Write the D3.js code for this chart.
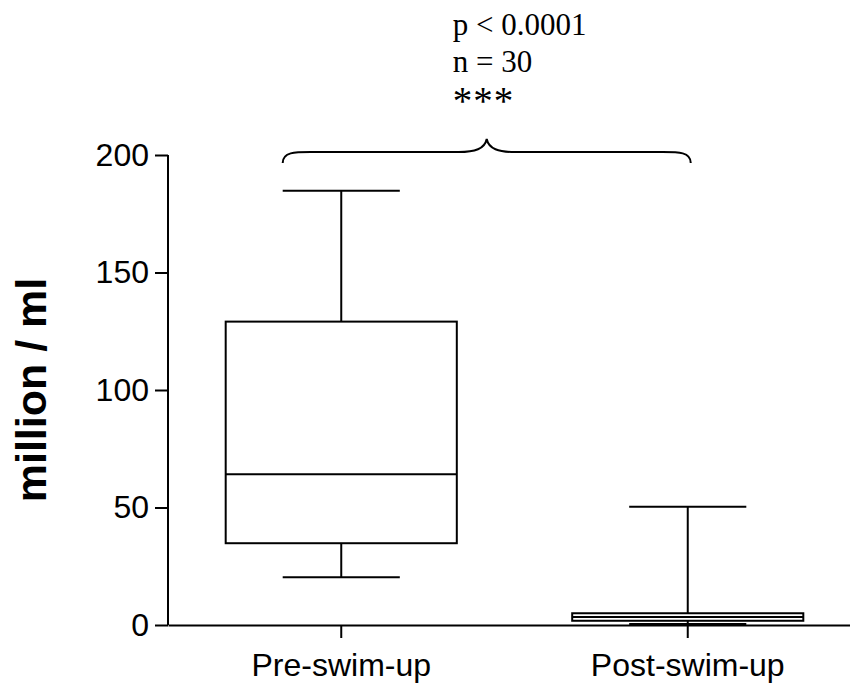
<!DOCTYPE html>
<html>
<head>
  <meta charset="utf-8">
  <title>Sperm concentration before and after swim-up</title>
  <style>
    body { margin: 0; background: #fff; }
    svg { display: block; }
    .tick text { font-family: "Liberation Sans", Arial, sans-serif; }
  </style>
</head>
<body>
  <script src="https://cdn.jsdelivr.net/npm/d3@7"></script>
  <script>
    // box plot summaries (million / ml)
    var groups = ["Pre-swim-up", "Post-swim-up"];
    var whiskerLow = [20.3, 0.4];
    var quartile1 = [34.8, 1.8];
    var medians = [64.1, 3.4];
    var quartile3 = [129.1, 5.0];
    var whiskerHigh = [184.8, 50.3];
    var yTicks = [0, 50, 100, 150, 200];
    var statLines = ["p < 0.0001", "n = 30", "***"];

    var width = 850;
    var height = 684;

    var svg = d3.select("body").append("svg")
      .attr("width", width)
      .attr("height", height);

    var x = d3.scaleBand().domain(groups).range([168, 861]);
    var y = d3.scaleLinear().domain([0, 200]).range([625, 155]);

    var boxW = x.bandwidth() * 0.667;
    var capW = x.bandwidth() * 0.338;

    var data = groups.map(function(g, i) {
      return { name: g, lo: whiskerLow[i], q1: quartile1[i], med: medians[i], q3: quartile3[i], hi: whiskerHigh[i] };
    });

    // axes
    var yAxis = d3.axisLeft(y).tickValues(yTicks).tickSize(13).tickPadding(6);
    var gy = svg.append("g")
      .attr("transform", "translate(" + x.range()[0] + ",0)")
      .call(yAxis);

    var xAxis = d3.axisBottom(x).tickSize(13).tickPadding(15).tickSizeOuter(0);
    var gx = svg.append("g")
      .attr("transform", "translate(0," + y(0) + ")")
      .call(xAxis);

    [gx, gy].forEach(function(g) {
      g.selectAll("path, line").attr("stroke", "#000").attr("stroke-width", 2);
      g.selectAll("text").attr("font-size", 32).attr("fill", "#000");
    });
    gy.select(".domain").attr("d", "M0," + y(0) + "V" + y(200));

    // y axis title
    svg.append("text")
      .attr("transform", "translate(46," + (y(0) + y(200)) / 2 + ") rotate(-90)")
      .attr("text-anchor", "middle")
      .attr("font-family", "Liberation Sans, Arial, sans-serif")
      .attr("font-weight", "bold")
      .attr("font-size", 43)
      .text("million / ml");

    // boxes and whiskers
    var boxes = svg.selectAll(".box")
      .data(data)
      .enter().append("g")
      .attr("class", "box")
      .attr("stroke", "#000")
      .attr("stroke-width", 2)
      .attr("fill", "none");

    function cx(d) { return x(d.name) + x.bandwidth() / 2; }

    boxes.append("line")
      .attr("x1", cx).attr("x2", cx)
      .attr("y1", function(d) { return y(d.hi); })
      .attr("y2", function(d) { return y(d.q3); });
    boxes.append("line")
      .attr("x1", cx).attr("x2", cx)
      .attr("y1", function(d) { return y(d.q1); })
      .attr("y2", function(d) { return y(d.lo); });
    boxes.append("line")
      .attr("x1", function(d) { return cx(d) - capW / 2; })
      .attr("x2", function(d) { return cx(d) + capW / 2; })
      .attr("y1", function(d) { return y(d.hi); })
      .attr("y2", function(d) { return y(d.hi); });
    boxes.append("line")
      .attr("x1", function(d) { return cx(d) - capW / 2; })
      .attr("x2", function(d) { return cx(d) + capW / 2; })
      .attr("y1", function(d) { return y(d.lo); })
      .attr("y2", function(d) { return y(d.lo); });
    boxes.append("rect")
      .attr("x", function(d) { return cx(d) - boxW / 2; })
      .attr("width", boxW)
      .attr("y", function(d) { return y(d.q3); })
      .attr("height", function(d) { return y(d.q1) - y(d.q3); })
      .attr("fill", "#fff");
    boxes.append("line")
      .attr("x1", function(d) { return cx(d) - boxW / 2; })
      .attr("x2", function(d) { return cx(d) + boxW / 2; })
      .attr("y1", function(d) { return y(d.med); })
      .attr("y2", function(d) { return y(d.med); });

    // curly brace spanning both groups
    var bx0 = cx(data[0]) - capW / 2;
    var bx1 = cx(data[1]) + 3;
    var bm = (bx0 + bx1) / 2;
    var by = y(200) - 3;
    var r = 28;
    var brace = "M" + bx0 + "," + (by + 11) +
      "C" + bx0 + "," + by + " " + (bx0 + 12) + "," + by + " " + (bx0 + r) + "," + by +
      "H" + (bm - r) +
      "C" + (bm - 12) + "," + by + " " + (bm - 2) + "," + (by - 3) + " " + bm + "," + (by - 13) +
      "C" + (bm + 2) + "," + (by - 3) + " " + (bm + 12) + "," + by + " " + (bm + r) + "," + by +
      "H" + (bx1 - r) +
      "C" + (bx1 - 12) + "," + by + " " + bx1 + "," + by + " " + bx1 + "," + (by + 11);
    svg.append("path")
      .attr("d", brace)
      .attr("fill", "none")
      .attr("stroke", "#000")
      .attr("stroke-width", 2);

    // significance annotation
    svg.append("g")
      .selectAll("text")
      .data(statLines)
      .enter().append("text")
      .attr("x", bm - 34)
      .attr("y", function(d, i) { return i < 2 ? 35 + i * 37 : 114; })
      .attr("font-family", "Liberation Serif, Times New Roman, serif")
      .attr("font-size", function(d, i) { return i < 2 ? 31 : 39; })
      .attr("letter-spacing", function(d, i) { return i < 2 ? 0 : 1; })
      .text(function(d) { return d; });
  </script>
</body>
</html>
